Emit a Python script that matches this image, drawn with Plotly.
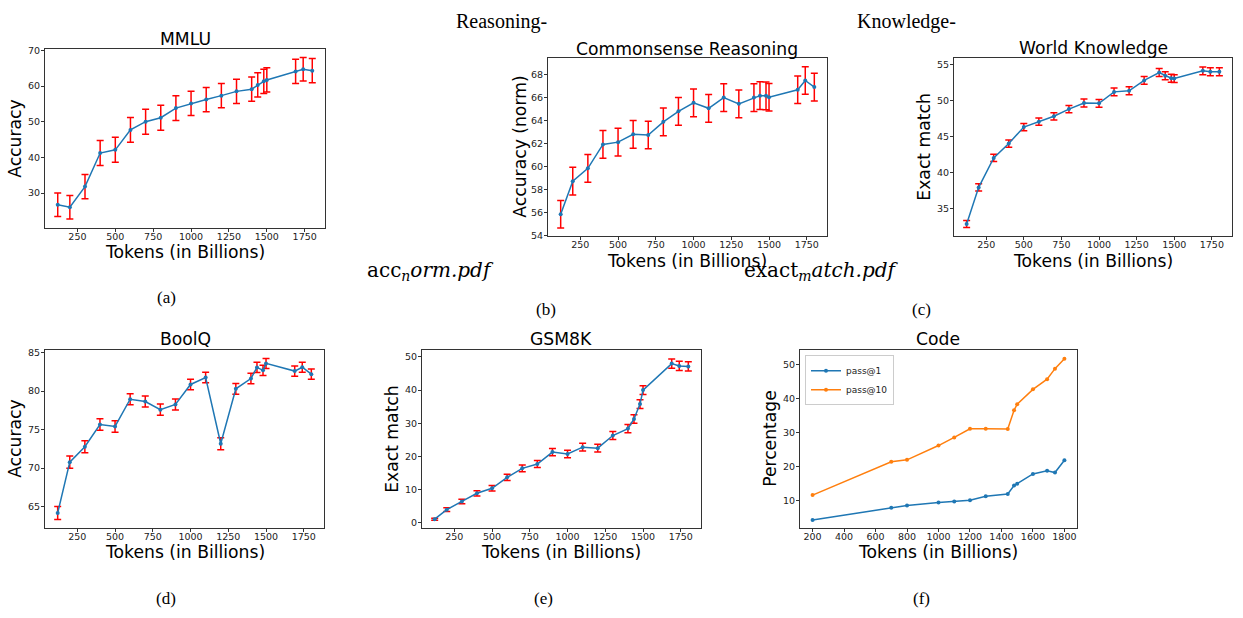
import plotly.graph_objects as go

# ---------------- data ----------------
tokens = [120, 200, 300, 400, 500, 600, 700, 800, 900, 1000, 1100, 1200,
          1300, 1400, 1440, 1480, 1500, 1690, 1740, 1800]

mmlu = [26.7, 26.0, 31.8, 41.2, 42.1, 47.7, 50.0, 51.1, 53.8, 55.1, 56.2, 57.3,
        58.5, 59.1, 60.3, 61.3, 61.7, 64.1, 64.7, 64.3]
mmlu_err = [3.3, 3.3, 3.4, 3.5, 3.5, 3.5, 3.5, 3.5, 3.5, 3.4, 3.4, 3.4,
            3.4, 3.4, 3.4, 3.4, 3.4, 3.4, 3.3, 3.4]

csr = [55.87, 58.74, 59.85, 61.92, 62.12, 62.80, 62.74, 63.88, 64.79, 65.53, 65.05, 65.98,
       65.44, 65.98, 66.15, 66.13, 66.01, 66.66, 67.46, 66.89]
csr_err = [1.2, 1.2, 1.2, 1.2, 1.2, 1.2, 1.2, 1.2, 1.2, 1.2, 1.2, 1.2,
           1.2, 1.2, 1.2, 1.2, 1.2, 1.2, 1.2, 1.2]

wk = [32.8, 37.9, 42.0, 44.0, 46.3, 47.05, 47.8, 48.8, 49.66, 49.6, 51.2, 51.35,
      52.8, 53.9, 53.45, 53.1, 53.05, 54.13, 54.0, 54.0]
wk_err = [0.5, 0.5, 0.5, 0.5, 0.5, 0.5, 0.5, 0.5, 0.55, 0.55, 0.55, 0.55,
          0.55, 0.55, 0.55, 0.55, 0.55, 0.55, 0.55, 0.55]

boolq = [64.15, 70.76, 72.76, 75.66, 75.4, 78.94, 78.65, 77.58, 78.26, 80.86, 81.76, 73.15,
         80.3, 81.63, 83.08, 82.7, 83.6, 82.6, 83.1, 82.2]
boolq_err = [0.84, 0.79, 0.78, 0.75, 0.75, 0.71, 0.72, 0.73, 0.72, 0.69, 0.68, 0.78,
             0.70, 0.68, 0.66, 0.66, 0.65, 0.66, 0.66, 0.67]

gsm = [1.09, 3.95, 6.42, 8.89, 10.38, 13.7, 16.4, 17.7, 21.3, 20.75, 22.8, 22.5,
       26.3, 28.4, 31.3, 35.8, 40.0, 48.0, 47.3, 47.15]
gsm_err = [0.3, 0.55, 0.67, 0.79, 0.84, 0.95, 1.02, 1.05, 1.13, 1.12, 1.16, 1.15,
           1.22, 1.24, 1.27, 1.32, 1.35, 1.38, 1.37, 1.37]

code_tokens = [200, 700, 800, 1000, 1100, 1200, 1300, 1440, 1480, 1500, 1600, 1690, 1740, 1800]
pass1 = [4.3, 7.87, 8.55, 9.42, 9.71, 10.1, 11.26, 11.95, 14.4, 14.95, 17.85, 18.8, 18.25, 21.85]
pass10 = [11.6, 21.4, 22.0, 26.2, 28.6, 31.15, 31.15, 31.1, 36.6, 38.4, 42.75, 45.75, 48.85, 51.8]

tick_tokens = [250, 500, 750, 1000, 1250, 1500, 1750]
tick_code = [200, 400, 600, 800, 1000, 1200, 1400, 1600, 1800]

# ---------------- layout helpers ----------------
W, H = 1243, 618
BLUE = "#1f77b4"
ORANGE = "#ff7f0e"
SANS = "DejaVu Sans"
SERIF = "Liberation Serif"
MATH = "DejaVu Serif"


def fx(x):
    return x / W


def fy(y):
    return 1 - y / H


fig = go.Figure()

panels = [
    (tokens, mmlu, mmlu_err),
    (tokens, csr, csr_err),
    (tokens, wk, wk_err),
    (tokens, boolq, boolq_err),
    (tokens, gsm, gsm_err),
]
for i, (xs, ys, es) in enumerate(panels):
    suf = "" if i == 0 else str(i + 1)
    fig.add_trace(go.Scatter(
        x=xs, y=ys, xaxis="x" + suf, yaxis="y" + suf,
        mode="lines+markers",
        line=dict(color=BLUE, width=1.5),
        marker=dict(color=BLUE, size=4),
        error_y=dict(type="data", array=es, color="red", thickness=1.5, width=3.5),
        showlegend=False,
    ))

fig.add_trace(go.Scatter(
    x=code_tokens, y=pass1, xaxis="x6", yaxis="y6", mode="lines+markers",
    name="pass@1", line=dict(color=BLUE, width=1.5), marker=dict(color=BLUE, size=4)))
fig.add_trace(go.Scatter(
    x=code_tokens, y=pass10, xaxis="x6", yaxis="y6", mode="lines+markers",
    name="pass@10", line=dict(color=ORANGE, width=1.5), marker=dict(color=ORANGE, size=4)))

# axes boxes in pixels: (left, right, top, bottom)
boxes = [
    (45, 325, 45, 227),
    (548, 827, 54, 235),
    (954, 1232, 54, 235),
    (45, 324, 351, 532),
    (422, 701, 351, 532),
    (800, 1077, 351, 532),
]
yranges = [
    [20.1, 70.3],
    [53.97, 69.4],
    [31.1, 55.9],
    [62.15, 85.3],
    [-1.7, 52.0],
    [1.8, 54.25],
]
ytickvals = [
    [30, 40, 50, 60, 70],
    [54, 56, 58, 60, 62, 64, 66, 68],
    [35, 40, 45, 50, 55],
    [65, 70, 75, 80, 85],
    [0, 10, 20, 30, 40, 50],
    [10, 20, 30, 40, 50],
]

axis_common = dict(
    showline=True, mirror=True, linecolor="#333", linewidth=1.2,
    ticks="outside", ticklen=3, tickwidth=1, tickcolor="#333",
    showgrid=False, zeroline=False,
    tickfont=dict(family=SANS, size=9.5, color="#222"),
)

layout_axes = {}
for i, (l, r, t, b) in enumerate(boxes):
    suf = "" if i == 0 else str(i + 1)
    xa = "x" + suf
    ya = "y" + suf
    if i == 5:
        xr = [120, 1880]
        xt = tick_code
    else:
        xr = [36, 1884]
        xt = tick_tokens
    layout_axes["xaxis" + suf] = dict(
        domain=[fx(l), fx(r)], anchor=ya, range=xr,
        tickvals=xt, ticklabelstandoff=-4, **axis_common)
    layout_axes["yaxis" + suf] = dict(
        domain=[fy(b), fy(t)], anchor=xa, range=yranges[i],
        tickvals=ytickvals[i], ticklabelstandoff=-1, **axis_common)

fig.update_layout(
    width=W, height=H,
    margin=dict(l=0, r=0, t=0, b=0),
    paper_bgcolor="white", plot_bgcolor="white",
    showlegend=True,
    legend=dict(
        x=fx(805), y=fy(356), xanchor="left", yanchor="top",
        bgcolor="rgba(255,255,255,0.9)", bordercolor="#ccc", borderwidth=1,
        font=dict(family=SANS, size=9, color="#222"),
        tracegroupgap=0, itemwidth=30,
    ),
    **layout_axes,
)

ann = []


def txt(x, y, s, size=17.2, family=SANS, angle=0, color="#000"):
    ann.append(dict(
        x=fx(x), y=fy(y), xref="paper", yref="paper", text=s, showarrow=False,
        xanchor="center", yanchor="middle", textangle=angle,
        font=dict(family=family, size=size, color=color)))


# subplot titles
titles = [("MMLU", 185, 35), ("Commonsense Reasoning", 687, 45), ("World Knowledge", 1093, 44),
          ("BoolQ", 185, 340), ("GSM8K", 561, 340), ("Code", 938, 340)]
for s, x, y in titles:
    txt(x, y, s)

# x-axis titles
for x, y in [(185, 251), (687, 260), (1093, 260), (185, 556), (561, 556), (938, 556)]:
    txt(x, y, "Tokens (in Billions)")

# y-axis titles
ylabels = [("Accuracy", 15, 136), ("Accuracy (norm)", 520, 144), ("Exact match", 924, 144),
           ("Accuracy", 15, 441), ("Exact match", 392, 441), ("Percentage", 770, 441)]
for s, x, y in ylabels:
    txt(x, y, s, angle=-90)

# figure-level serif text
txt(501, 17, "Reasoning-", size=20, family=SERIF)
txt(906, 17, "Knowledge-", size=20, family=SERIF)
txt(430, 270, "acc<sub><i>n</i></sub><i>orm.pdf</i>", size=20, family=MATH)
txt(821, 270, "exact<sub><i>m</i></sub><i>atch.pdf</i>", size=20, family=MATH)
for s, x, y in [("(a)", 166, 297), ("(b)", 546, 310), ("(c)", 921, 310),
                ("(d)", 166, 603), ("(e)", 543, 603), ("(f)", 921, 603)]:
    txt(x, y, s, size=17, family=SERIF)

fig.update_layout(annotations=ann)

fig.write_html(
    "out.html",
    config={"displayModeBar": False},
    post_script="document.body.style.margin='0px';document.body.style.overflow='hidden';",
)
